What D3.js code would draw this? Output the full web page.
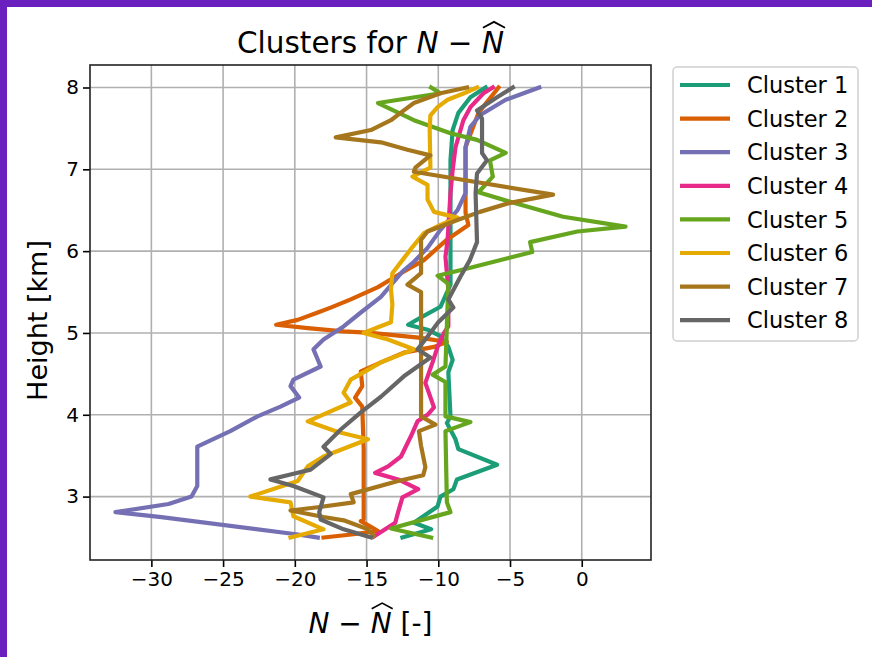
<!DOCTYPE html>
<html>
<head>
<meta charset="utf-8">
<script src="https://cdn.jsdelivr.net/npm/d3@7"></script>
<style>
  body { margin: 0; background: #fff; }
  text { font-family: "DejaVu Sans", sans-serif; fill: #000; }
</style>
</head>
<body>
<svg width="872" height="657"></svg>
<script>
// each cluster: [value, height km]
const cluster1 = [[-6.7,8.0],[-7.76,7.88],[-8.6,7.69],[-9.0,7.48],[-9.15,7.11],[-9.15,5.59],[-9.85,5.32],[-11.2,5.19],[-12.1,5.1],[-10.75,5.04],[-9.85,4.96],[-9.3,4.83],[-9.0,4.67],[-9.3,4.52],[-9.15,3.98],[-9.4,3.9],[-8.8,3.7],[-8.6,3.58],[-5.9,3.39],[-8.7,3.21],[-8.95,3.09],[-9.85,3.0],[-10.05,2.88],[-11.7,2.68],[-10.5,2.6],[-12.5,2.5]];
const cluster2 = [[-5.8,8.0],[-7.2,7.69],[-8.1,7.27],[-8.1,6.47],[-7.9,6.32],[-9.4,6.14],[-11.0,5.89],[-12.6,5.73],[-14.2,5.56],[-16.1,5.41],[-17.5,5.31],[-18.4,5.25],[-19.8,5.16],[-21.3,5.1],[-19.1,5.06],[-16.6,5.02],[-14.7,5.0],[-11.2,4.94],[-9.4,4.89],[-10.3,4.83],[-12.4,4.76],[-14.0,4.64],[-15.4,4.53],[-15.3,4.35],[-15.8,4.21],[-15.3,4.1],[-15.2,3.58],[-15.2,2.72],[-15.4,2.7],[-14.7,2.63],[-14.2,2.58],[-15.9,2.54],[-18.0,2.5]];
const cluster3 = [[-2.96,8.0],[-5.3,7.85],[-7.1,7.66],[-7.76,7.52],[-8.1,7.27],[-8.1,6.71],[-8.66,6.5],[-9.85,6.26],[-10.75,6.04],[-11.7,5.87],[-12.5,5.75],[-14.0,5.44],[-15.4,5.25],[-16.6,5.08],[-18.0,4.92],[-18.7,4.8],[-18.2,4.59],[-20.1,4.43],[-20.3,4.35],[-19.7,4.21],[-21.0,4.1],[-22.6,3.98],[-24.5,3.8],[-26.8,3.61],[-26.8,3.13],[-27.2,3.0],[-28.8,2.91],[-32.5,2.81],[-29.3,2.75],[-19.9,2.54],[-18.4,2.5]];
const cluster4 = [[-6.2,8.0],[-6.85,7.93],[-7.76,7.76],[-8.25,7.6],[-8.8,7.27],[-9.0,6.99],[-9.15,6.71],[-9.35,6.14],[-9.5,5.93],[-9.3,5.53],[-9.3,5.08],[-9.6,5.0],[-10.05,4.83],[-10.4,4.64],[-10.9,4.39],[-10.3,4.09],[-10.75,4.0],[-11.45,3.92],[-11.9,3.74],[-12.6,3.49],[-13.5,3.37],[-14.4,3.29],[-12.8,3.21],[-11.4,3.09],[-12.5,2.99],[-12.8,2.81],[-13.0,2.68],[-14.5,2.51]];
const cluster5 = [[-10.5,8.0],[-9.85,7.93],[-14.2,7.81],[-11.7,7.6],[-9.15,7.44],[-7.3,7.36],[-5.3,7.2],[-6.4,7.11],[-6.2,6.91],[-7.2,6.72],[-4.75,6.59],[-1.3,6.42],[3.05,6.3],[-0.3,6.24],[-3.6,6.11],[-3.45,5.99],[-7.7,5.8],[-10.05,5.7],[-9.3,5.6],[-9.5,4.59],[-10.4,4.49],[-9.5,4.4],[-9.5,3.98],[-7.76,3.91],[-9.5,3.8],[-9.4,2.93],[-9.15,2.81],[-13.3,2.61],[-10.5,2.5]];
const cluster6 = [[-7.3,8.0],[-8.2,7.93],[-9.35,7.85],[-10.05,7.76],[-10.55,7.66],[-10.6,7.48],[-10.55,7.02],[-11.8,6.91],[-10.75,6.81],[-10.75,6.63],[-10.3,6.48],[-8.66,6.41],[-9.85,6.32],[-11.0,6.22],[-11.8,6.05],[-12.5,5.89],[-13.2,5.73],[-13.3,5.53],[-13.2,5.35],[-13.3,5.13],[-14.2,5.07],[-15.2,5.0],[-13.5,4.92],[-11.7,4.8],[-14.0,4.64],[-16.1,4.43],[-16.6,4.27],[-16.1,4.15],[-19.1,3.92],[-17.0,3.79],[-14.9,3.7],[-18.0,3.49],[-19.1,3.37],[-19.8,3.19],[-23.1,3.0],[-20.3,2.93],[-20.1,2.76],[-18.0,2.6],[-20.3,2.5]];
const cluster7 = [[-8.0,8.0],[-9.85,7.93],[-11.7,7.81],[-12.4,7.72],[-13.3,7.6],[-14.7,7.48],[-17.15,7.39],[-14.0,7.33],[-12.15,7.24],[-10.55,7.17],[-11.6,7.02],[-11.7,6.97],[-2.0,6.69],[-5.0,6.59],[-7.1,6.48],[-8.66,6.38],[-10.75,6.24],[-11.2,6.14],[-11.2,5.73],[-12.15,5.59],[-11.2,5.5],[-11.2,3.98],[-10.2,3.88],[-11.35,3.8],[-11.2,3.62],[-10.9,3.36],[-11.05,3.26],[-12.8,3.19],[-16.1,3.03],[-15.9,2.93],[-18.4,2.87],[-20.3,2.83],[-18.0,2.75],[-16.6,2.71],[-14.9,2.6],[-14.5,2.52]];
const cluster8 = [[-4.8,8.0],[-5.9,7.88],[-7.3,7.72],[-6.95,7.62],[-6.95,7.2],[-6.6,7.11],[-7.3,6.95],[-7.4,6.71],[-7.3,6.11],[-7.8,5.89],[-8.45,5.69],[-9.3,5.41],[-8.95,5.31],[-10.0,5.13],[-10.9,4.92],[-11.45,4.8],[-10.55,4.7],[-12.4,4.47],[-14.0,4.22],[-15.4,4.03],[-16.8,3.82],[-18.0,3.61],[-17.5,3.52],[-18.9,3.33],[-20.3,3.27],[-21.7,3.21],[-20.1,3.13],[-18.0,2.99],[-18.3,2.81],[-18.2,2.72],[-16.6,2.6],[-14.7,2.5]];

const clusters = [cluster1, cluster2, cluster3, cluster4, cluster5, cluster6, cluster7, cluster8];
const names = ["Cluster 1","Cluster 2","Cluster 3","Cluster 4","Cluster 5","Cluster 6","Cluster 7","Cluster 8"];
const colors = ["#1b9e77","#d95f02","#7570b3","#e7298a","#66a61e","#e6ab02","#a6761d","#666666"];
const xTicks = [-30, -25, -20, -15, -10, -5, 0];
const yTicks = [3, 4, 5, 6, 7, 8];

const svg = d3.select("svg");
const margin = {top: 65, right: 221, bottom: 97, left: 90};
const width = 872 - margin.left - margin.right;
const height = 657 - margin.top - margin.bottom;

// purple frame
svg.append("rect").attr("width", 872).attr("height", 657).attr("fill", "#6a1fbf");
svg.append("rect").attr("x", 7).attr("y", 7).attr("width", 865).attr("height", 650).attr("fill", "#fff");

// matplotlib style 5% margins
const allX = clusters.flat().map(d => d[0]);
const allY = clusters.flat().map(d => d[1]);
const xExt = d3.extent(allX), yExt = d3.extent(allY);
const xPad = (xExt[1] - xExt[0]) * 0.05, yPad = (yExt[1] - yExt[0]) * 0.05;

const x = d3.scaleLinear().domain([xExt[0] - xPad, xExt[1] + xPad]).range([0, width]);
const y = d3.scaleLinear().domain([yExt[0] - yPad, yExt[1] + yPad]).range([height, 0]);

const g = svg.append("g").attr("transform", `translate(${margin.left},${margin.top})`);

// grid
g.append("g").selectAll("line").data(xTicks).enter().append("line")
  .attr("x1", d => x(d)).attr("x2", d => x(d)).attr("y1", 0).attr("y2", height)
  .attr("stroke", "#b0b0b0").attr("stroke-width", 1.6);
g.append("g").selectAll("line").data(yTicks).enter().append("line")
  .attr("y1", d => y(d)).attr("y2", d => y(d)).attr("x1", 0).attr("x2", width)
  .attr("stroke", "#b0b0b0").attr("stroke-width", 1.6);

// lines
const line = d3.line().x(d => x(d[0])).y(d => y(d[1]));
g.append("g").selectAll("path").data(clusters).enter().append("path")
  .attr("d", line)
  .attr("fill", "none")
  .attr("stroke", (d, i) => colors[i])
  .attr("stroke-width", 4.2)
  .attr("stroke-linejoin", "round")
  .attr("stroke-linecap", "square");

// axes
const fmt = d => String(d).replace("-", "\u2212");
const xAxis = g.append("g").attr("transform", `translate(0,${height})`)
  .call(d3.axisBottom(x).tickValues(xTicks).tickSize(7).tickPadding(5).tickFormat(fmt));
const yAxis = g.append("g")
  .call(d3.axisLeft(y).tickValues(yTicks).tickSize(7).tickPadding(4).tickFormat(fmt));
[xAxis, yAxis].forEach(a => {
  a.select(".domain").remove();
  a.selectAll(".tick line").attr("stroke", "#000").attr("stroke-width", 1.6);
  a.selectAll(".tick text").attr("font-family", "DejaVu Sans").attr("font-size", 20).attr("fill", "#000");
});

g.append("rect").attr("width", width).attr("height", height)
  .attr("fill", "none").attr("stroke", "#222").attr("stroke-width", 1.6);

// title with hat
function mathText(sel, prefix, suffix) {
  sel.append("tspan").text(prefix);
  sel.append("tspan").attr("font-style", "italic").text("N");
  sel.append("tspan").text(" \u2212 ");
  sel.append("tspan").attr("font-style", "italic").text("N");
  if (suffix) sel.append("tspan").text(suffix);
}
function addHat(t) {
  const node = t.node();
  const idx = node.textContent.lastIndexOf("N");
  const b = node.getExtentOfChar(idx);
  const fs = +t.attr("font-size");
  const top = b.y + fs * 0.06;
  svg.append("path")
    .attr("d", `M${b.x + 1},${top} L${b.x + b.width / 2 + 1},${top - fs * 0.2} L${b.x + b.width + 1},${top}`)
    .attr("fill", "none").attr("stroke", "#000").attr("stroke-width", fs * 0.06);
}

const title = svg.append("text").attr("x", margin.left + width / 2).attr("y", 53)
  .attr("text-anchor", "middle").attr("font-size", 29.5);
mathText(title, "Clusters for ", null);
addHat(title);

const xLabel = svg.append("text").attr("x", margin.left + width / 2).attr("y", 633)
  .attr("text-anchor", "middle").attr("font-size", 28);
mathText(xLabel, "", " [-]");
addHat(xLabel);

svg.append("text").attr("transform", `translate(47,${margin.top + height / 2 + 8}) rotate(-90)`)
  .attr("text-anchor", "middle").attr("font-size", 27).text("Height [km]");

// legend
const lg = svg.append("g").attr("transform", "translate(673,67)");
lg.append("rect").attr("width", 185).attr("height", 274).attr("rx", 4)
  .attr("fill", "#fff").attr("stroke", "#d0d0d0").attr("stroke-width", 1.5);
const item = lg.selectAll(".item").data(names).enter().append("g")
  .attr("transform", (d, i) => `translate(0,${18 + i * 33.6})`);
item.append("line").attr("x1", 7).attr("x2", 57)
  .attr("stroke", (d, i) => colors[i]).attr("stroke-width", 4.2);
item.append("text").attr("x", 74).attr("dy", "0.36em").attr("font-size", 22.5).text(d => d);
</script>
</body>
</html>
